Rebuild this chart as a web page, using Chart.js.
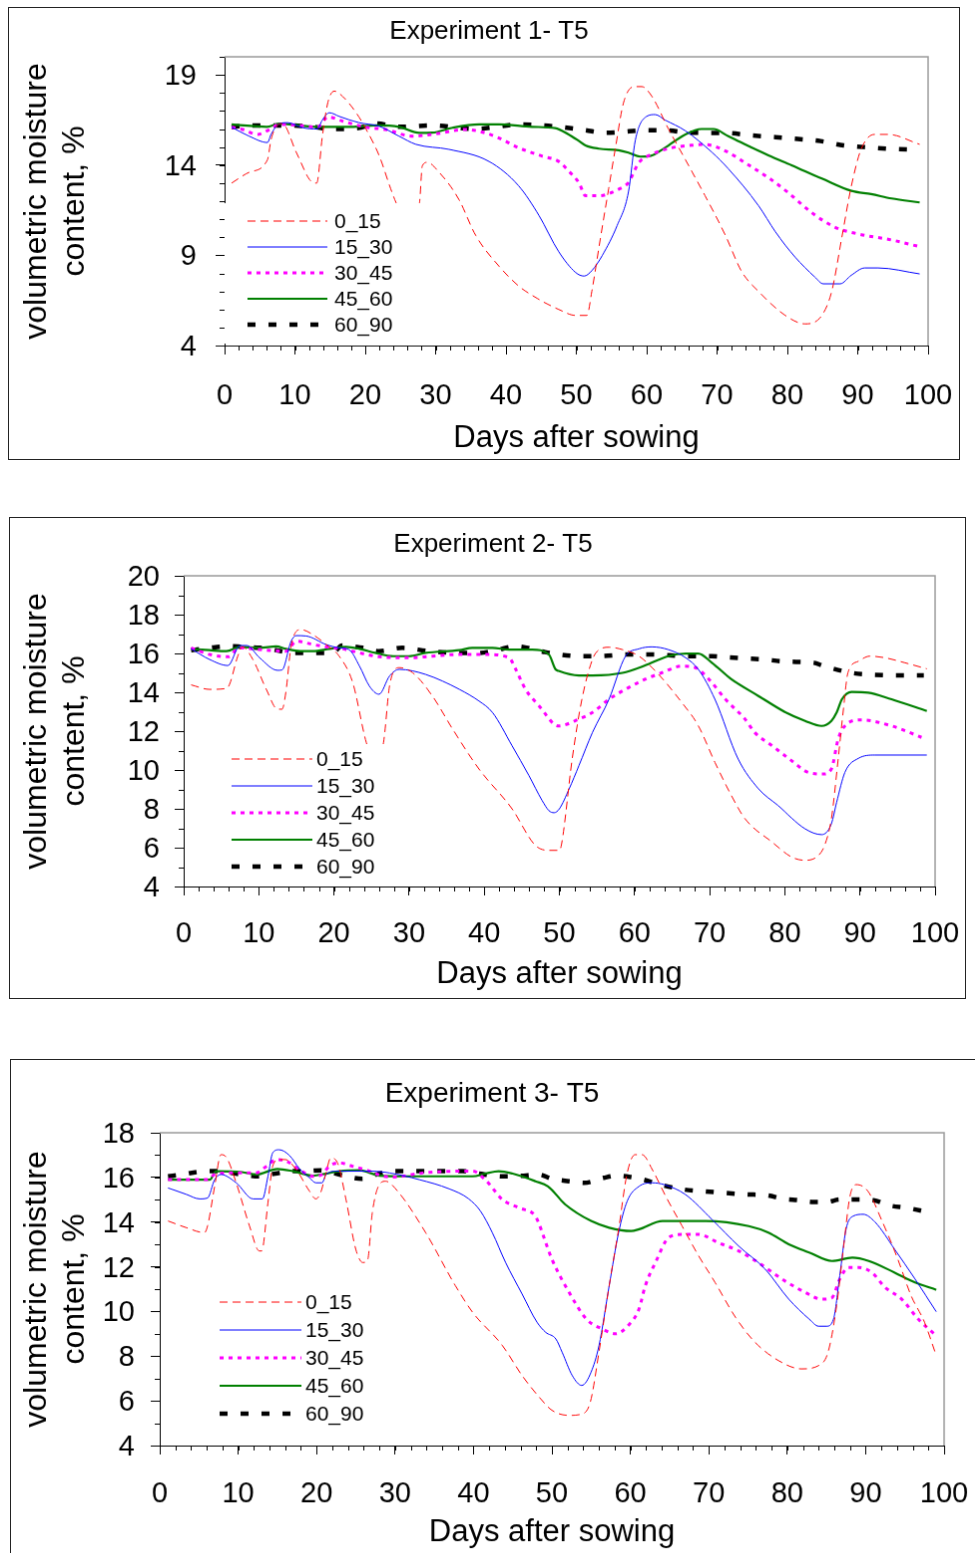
<!DOCTYPE html>
<html>
<head>
<meta charset="utf-8">
<script src="https://cdn.jsdelivr.net/npm/chart.js@4"></script>
<style>
  html, body { margin: 0; padding: 0; background: #fff; overflow: hidden; }
  canvas { position: absolute; border: 1px solid #222; }
</style>
</head>
<body>
<canvas id="c1" width="952" height="453" style="left:8px;top:7px"></canvas>
<canvas id="c2" width="957" height="482" style="left:9px;top:517px"></canvas>
<canvas id="c3" width="978" height="518" style="left:10px;top:1059px"></canvas>
<script>
// soil layers (cm)
const depths = ['0_15', '15_30', '30_45', '45_60', '60_90'];
const xTicks = [0, 10, 20, 30, 40, 50, 60, 70, 80, 90, 100];
const yTicks1 = [4, 9, 14, 19];
const yTicks2 = [4, 6, 8, 10, 12, 14, 16, 18, 20];
const yTicks3 = [4, 6, 8, 10, 12, 14, 16, 18];

// [day, moisture %]
const e1_0_15 = [[1,13.0],[3.5,13.6],[6.1,14.3],[6.6,15.4],[7.6,16.25],[8.2,16.3],[10.2,14.7],[12.3,13.1],[13.1,13.0],[13.9,15.6],[14.7,17.5],[15.6,18.1],[16.8,17.8],[18.7,16.9],[20.1,16.0],[22,14.5],[23.6,12.7],[24.4,11.9],[26,10.8],[27.7,11.9],[28.1,13.95],[28.8,14.15],[30.5,13.6],[33.3,12.1],[35.7,10.1],[39,8.4],[41.8,7.3],[44.5,6.6],[47.5,6.0],[49.9,5.67],[51.5,5.67],[52.2,7.0],[53.4,9.9],[54.6,12.7],[55.6,15.05],[56.7,17.45],[58.2,18.35],[59.3,18.35],[60.75,17.8],[63.1,16.0],[65.5,14.3],[68.3,12.3],[71.2,10.1],[73.5,8.1],[75.9,7.0],[79.7,5.67],[82.5,5.2],[84.9,5.67],[86.3,7.0],[87.7,9.9],[89.1,12.85],[90.5,14.9],[92.4,15.7],[94.3,15.7],[98.8,15.15]];
const e1_15_30 = [[1,16.1],[3.5,15.6],[6.1,15.25],[6.6,15.7],[7.8,16.3],[9,16.35],[11.1,16.07],[13.2,16.0],[13.9,16.5],[14.9,16.9],[16.3,16.7],[19.1,16.35],[22,16.15],[24.8,15.6],[27.2,15.15],[31.9,14.87],[37.6,14.2],[41.8,12.85],[44.7,11.2],[47.5,9.2],[49.9,8.05],[51.1,7.85],[52.2,8.15],[53.7,9.0],[55.8,10.65],[57.4,12.5],[58.4,15.4],[60,16.7],[61.2,16.8],[62.6,16.5],[65.5,15.9],[69.3,14.7],[71.6,13.8],[75.9,11.75],[78.3,10.3],[81.1,8.9],[83.9,7.8],[85.1,7.42],[87.5,7.42],[89.1,7.9],[91,8.3],[92.9,8.3],[98.8,7.97]];
const e1_30_45 = [[1,16.1],[2.6,15.97],[4.7,15.7],[6.4,15.97],[7.8,16.25],[10.6,16.2],[13.2,16.1],[14.7,16.67],[16.8,16.43],[20.1,16.1],[22.9,15.97],[26.7,15.6],[29.5,15.7],[34.3,15.97],[37.1,15.78],[39,15.5],[41.8,14.96],[45.1,14.5],[47.5,14.2],[48.9,13.67],[50.4,13.0],[51.3,12.3],[53.2,12.3],[56,12.66],[57.4,13.03],[58.9,14.14],[60.75,14.6],[63.6,14.96],[66.4,15.1],[68.3,15.14],[71.2,14.78],[74.5,14.0],[77.3,13.3],[80.1,12.48],[83.4,11.38],[86.8,10.55],[90.1,10.18],[94.8,9.85],[98.8,9.48]];
const e1_45_60 = [[1,16.25],[6,16.12],[7.8,16.3],[13,16.12],[18,16.12],[21.5,16.2],[24.8,16.12],[27.7,15.79],[29.5,15.8],[32.4,16.07],[36.2,16.25],[39,16.25],[43.7,16.12],[47,16.05],[48.9,15.7],[50.4,15.33],[51.3,15.09],[53.2,14.91],[56,14.82],[57.4,14.69],[59.1,14.47],[60.5,14.5],[62.6,14.96],[65.5,15.7],[67.8,16.0],[69.5,16.0],[71.6,15.6],[74,15.14],[77.3,14.54],[80.6,13.99],[84.9,13.25],[89.1,12.57],[91.9,12.39],[94.8,12.15],[98.8,11.93]];
const e1_60_90 = [[1,16.1],[3,16.2],[9,16.2],[13,16.1],[15,16.0],[19,16.05],[21.5,16.3],[25,16.12],[29.5,16.2],[35.5,16.0],[41.9,16.25],[45,16.2],[47.5,16.12],[51.3,15.93],[54.1,15.79],[56,15.82],[59.7,15.93],[63,15.92],[66.1,15.79],[71.2,15.78],[75,15.64],[78.3,15.55],[81.1,15.46],[84.7,15.33],[88,15.09],[90.8,15.0],[94.1,14.91],[98.5,14.85]];

const e2_0_15 = [[1,14.38],[3.45,14.15],[5.7,14.2],[6.1,14.4],[7.2,15.86],[7.8,16.34],[9.2,15.7],[11,14.15],[12.5,13.13],[13.1,13.13],[13.6,14.0],[14.3,16.37],[15.6,17.23],[17.2,16.97],[18.95,16.46],[20.7,15.86],[22.5,14.5],[24.3,11.42],[25.5,10.3],[26.6,11.42],[27.4,14.33],[28.7,15.27],[30.5,15.0],[33.1,13.81],[35.8,12.1],[39.3,10.05],[43.7,8.0],[46.8,6.12],[48.6,5.86],[50.0,5.86],[50.3,6.2],[51.7,10.56],[53.0,13.64],[54.4,15.69],[55.3,16.2],[56.6,16.32],[58.4,16.2],[60.6,15.86],[63.2,14.92],[66.3,13.47],[68.5,12.27],[70.7,10.39],[72.9,8.68],[74.7,7.49],[78.3,6.29],[80.9,5.52],[82.7,5.35],[84.5,5.61],[85.3,6.12],[86.2,7.49],[87.1,10.56],[87.8,13.13],[88.4,15.0],[89.8,15.6],[91.3,15.86],[93.3,15.78],[96,15.52],[98.9,15.21]];
const e2_15_30 = [[1,16.24],[3.45,15.69],[5.9,15.38],[7.5,16.41],[8.4,16.41],[10.1,15.78],[12.5,15.13],[13.1,15.15],[14.3,16.63],[15.0,16.92],[16.3,16.9],[18.95,16.46],[20.7,16.29],[22,16.2],[23.4,15.35],[24.7,14.33],[26.0,13.9],[27.4,14.84],[28.7,15.18],[32.2,14.92],[36.7,14.15],[39.3,13.55],[41.1,12.96],[43.7,11.25],[45.95,9.71],[47.7,8.43],[48.6,7.91],[49.3,7.8],[50.0,8.0],[51.3,9.03],[52.6,10.22],[54.4,11.93],[56.6,13.64],[58.8,15.86],[60.6,16.24],[62.3,16.34],[64.5,16.2],[66.8,15.78],[68.5,15.18],[70.7,13.64],[73.8,10.56],[76.5,9.03],[79.1,8.17],[82.7,6.97],[84.9,6.67],[86.2,7.23],[86.9,8.34],[88.0,9.88],[89.8,10.6],[92,10.77],[98.9,10.77]];
const e2_30_45 = [[1,16.29],[3.45,15.95],[6,15.83],[7.3,16.29],[10.1,16.2],[13.6,16.12],[15,16.63],[17.2,16.46],[19.8,16.29],[21.1,16.24],[23.4,16.03],[26,15.83],[30,15.78],[33.1,15.86],[36.7,15.95],[40.2,15.95],[43.3,15.78],[44.2,15.18],[45.5,14.15],[47.3,13.3],[49.9,12.27],[52.6,12.62],[54.4,12.96],[56.6,13.64],[59.2,14.24],[61.4,14.67],[63.6,15.0],[66.3,15.35],[68.1,15.27],[69.9,14.67],[72.1,13.64],[74.7,12.62],[76.0,11.93],[78.3,11.25],[80.9,10.48],[83.1,9.88],[85.1,9.79],[86.2,10.05],[87.1,11.59],[88.0,12.27],[90.2,12.58],[94.2,12.27],[98.2,11.68]];
const e2_45_60 = [[1,16.24],[3.45,16.17],[5.7,16.12],[7.5,16.34],[10.1,16.29],[12.3,16.37],[13.6,16.24],[15.5,16.12],[17.2,16.12],[19.4,16.24],[21.6,16.34],[23.4,16.24],[25.5,16.03],[27.9,15.86],[30,15.86],[32.2,16.03],[36.7,16.17],[38.4,16.29],[41.1,16.29],[43.3,16.2],[46.4,16.2],[48.6,15.95],[49.5,15.18],[49.9,15.1],[52.6,14.87],[54.4,14.87],[58.4,15.0],[61.4,15.38],[64.5,15.86],[66.8,15.99],[68.5,15.99],[70.3,15.52],[72.9,14.67],[76.5,13.81],[80.0,12.99],[82.7,12.53],[84.9,12.27],[86.2,12.53],[86.9,12.96],[87.6,13.64],[88.9,14.02],[91.1,13.98],[94.2,13.64],[98.9,13.04]];
const e2_60_90 = [[1,16.17],[3.45,16.29],[6,16.37],[7.5,16.35],[10.1,16.29],[11.9,16.2],[14.4,16.03],[17,16.03],[19.8,16.03],[21.1,16.41],[23.8,16.29],[26,16.12],[29.1,16.29],[32.6,16.12],[36.7,16.03],[39.3,16.03],[41.6,16.17],[44.2,16.37],[48.1,16.07],[49.9,15.95],[52.6,15.86],[55,15.86],[59.3,15.95],[62.3,15.95],[66.8,15.86],[70.3,15.86],[72.5,15.8],[74.7,15.75],[77.3,15.69],[79.5,15.6],[81.5,15.57],[83.9,15.52],[85,15.38],[86.5,15.21],[88.9,15.0],[91.1,14.92],[96.1,14.87],[98.5,14.87]];

const e3_0_15 = [[1.06,14.05],[3.4,13.75],[5.7,13.53],[6.1,13.83],[7.0,15.6],[7.8,17.02],[8.5,16.9],[9.75,15.76],[11.45,13.82],[12.7,12.71],[13.0,12.71],[13.8,14.87],[14.4,16.5],[15.2,16.8],[16.0,16.8],[17.4,16.35],[19.1,15.38],[19.9,15.04],[20.5,15.3],[21.2,16.2],[21.8,16.87],[22.6,16.7],[23.75,15.01],[25.0,12.78],[25.9,12.19],[26.5,12.3],[27.1,14.42],[28.0,15.68],[28.8,15.83],[30.5,15.31],[33.9,13.53],[37.7,11.15],[39.9,9.96],[43.7,8.47],[46.2,7.13],[48.3,6.2],[50.0,5.58],[52.2,5.35],[53.7,5.4],[54.9,5.95],[56.0,8.18],[57.3,11.15],[58.5,13.68],[59.6,16.2],[60.6,17.02],[61.5,17.02],[62.8,16.35],[64.5,15.16],[66.6,13.82],[68.7,12.49],[70.8,11.3],[73.4,9.74],[75.9,8.62],[78.9,7.8],[81.8,7.43],[84.0,7.58],[85.2,8.18],[86.3,10.26],[87.2,12.93],[88.0,15.16],[88.8,15.68],[90.3,15.38],[92.0,14.12],[94.1,12.34],[95.8,10.7],[97.5,9.52],[99.0,8.03]];
const e3_15_30 = [[1.06,15.53],[3.4,15.24],[5.1,15.04],[6.1,15.08],[7.0,15.9],[7.8,16.13],[9.75,15.76],[11.9,15.04],[13.1,15.04],[13.8,16.05],[14.4,17.1],[15.2,17.24],[16.5,17.0],[17.8,16.4],[19.1,15.98],[19.9,15.76],[20.7,15.76],[21.2,16.13],[22.5,16.28],[27.1,16.28],[29.3,16.2],[33.1,15.9],[36.9,15.49],[39.4,15.04],[40.9,14.49],[42.4,13.53],[44.1,12.19],[46.2,10.78],[48.1,9.52],[49.2,9.07],[50.5,8.77],[51.3,8.18],[52.6,7.13],[53.8,6.69],[55.0,7.29],[56.0,8.47],[57.3,11.15],[58.5,13.53],[59.6,14.94],[61.1,15.6],[62.8,15.76],[64.3,15.68],[67.0,15.24],[70.4,14.12],[73.8,12.93],[77.2,11.89],[80.2,10.55],[82.8,9.66],[84.0,9.34],[85.0,9.34],[85.9,9.66],[86.7,11.6],[87.5,13.68],[88.4,14.27],[89.7,14.35],[91.2,14.0],[93.7,12.78],[96.3,11.45],[99.0,9.99]];
const e3_30_45 = [[1.06,15.9],[6.1,15.9],[7.0,16.13],[8.5,16.2],[12.3,16.2],[13.6,16.5],[14.9,16.8],[16.2,16.72],[17.8,16.35],[19.5,16.05],[20.7,16.13],[21.6,16.5],[22.9,16.65],[24.6,16.5],[26.8,16.28],[28.5,16.05],[29.8,16.02],[33.5,16.2],[37.7,16.28],[39.9,16.28],[41.5,15.9],[43.7,15.01],[45.8,14.64],[47.9,14.27],[48.3,13.97],[50.0,12.34],[52.2,10.85],[54.4,9.66],[56.4,9.22],[58.1,9.0],[59.8,9.4],[61.1,10.11],[61.9,11.15],[63.2,12.19],[64.9,13.31],[66.6,13.45],[68.7,13.45],[71.2,13.08],[73.8,12.71],[76.3,12.19],[79.7,11.37],[82.3,10.85],[84.4,10.55],[85.7,10.62],[86.7,11.45],[87.8,11.97],[89.1,11.97],[90.8,11.74],[92.5,11.07],[94.6,10.55],[96.7,9.66],[99.0,8.92]];
const e3_45_60 = [[1.06,15.9],[6.4,15.9],[7.2,16.28],[10.5,16.24],[12.3,16.13],[15.0,16.38],[17.0,16.28],[19.5,16.08],[21.2,16.17],[22.9,16.28],[25.5,16.32],[28.0,16.08],[31.4,16.05],[39.9,16.05],[41.5,16.17],[43.2,16.28],[45.0,16.17],[47.9,15.83],[49.5,15.6],[51.7,14.79],[55.0,14.05],[57.3,13.75],[60.1,13.6],[61.1,13.68],[64.1,14.05],[69.6,14.05],[75.1,13.82],[77.6,13.53],[80.2,13.01],[82.8,12.64],[85.7,12.26],[88.3,12.41],[90.4,12.26],[93.7,11.74],[96.3,11.3],[99.0,10.97]];
const e3_60_90 = [[1.06,16.05],[2.9,16.13],[4.7,16.24],[6.0,16.28],[7.3,16.28],[10.5,16.13],[12.6,16.05],[14.7,16.17],[16.9,16.28],[18.6,16.28],[20.5,16.32],[22.1,16.2],[23.8,16.05],[25.8,15.94],[28.0,16.17],[29.3,16.28],[38.6,16.28],[40.7,16.17],[43.8,16.05],[46,16.07],[48.3,16.13],[50,15.94],[52.2,15.83],[54.1,15.76],[56.6,15.98],[58.3,16.08],[60.0,16.02],[61.7,15.9],[63.8,15.68],[66.8,15.46],[69.3,15.38],[71.9,15.31],[74.8,15.24],[77.4,15.2],[79.5,15.04],[81.6,14.98],[83.3,14.9],[85,14.9],[86.7,15.01],[88.8,15.01],[91,14.98],[93.1,14.74],[95.2,14.64],[97.4,14.49],[98.5,14.42]];

const lineStyles = [
  { color: '#ff0000', width: 1, dash: [8, 5] },
  { color: '#0000ff', width: 1, dash: [] },
  { color: '#ff00ff', width: 3, dash: [4, 5] },
  { color: '#008000', width: 2.2, dash: [] },
  { color: '#000000', width: 4.5, dash: [8, 13] },
];

Chart.defaults.font.family = '"Liberation Sans", Arial, sans-serif';
Chart.defaults.color = '#000';

// grey top/right edge of the plot area
const frame = {
  id: 'frame',
  beforeDatasetsDraw(chart) {
    const { ctx, chartArea: a } = chart;
    ctx.save();
    ctx.strokeStyle = '#9a9a9a';
    ctx.lineWidth = 1.5;
    ctx.beginPath();
    ctx.moveTo(a.left, a.top);
    ctx.lineTo(a.right, a.top);
    ctx.lineTo(a.right, a.bottom);
    ctx.stroke();
    ctx.restore();
  }
};

// legend box sitting inside the plot, drawn over the curves
const boxLegend = {
  id: 'boxLegend',
  afterDatasetsDraw(chart, args, o) {
    const { ctx, chartArea: a } = chart;
    ctx.save();
    ctx.fillStyle = '#fff';
    ctx.fillRect(a.left + o.box[0], a.top + o.box[1], o.box[2], o.box[3]);
    ctx.font = '21px "Liberation Sans", Arial, sans-serif';
    ctx.textBaseline = 'middle';
    chart.data.datasets.forEach((ds, i) => {
      const yy = a.top + o.rowTop + i * o.rowStep;
      ctx.strokeStyle = ds.borderColor;
      ctx.lineWidth = ds.borderWidth;
      ctx.setLineDash(ds.borderDash);
      ctx.beginPath();
      ctx.moveTo(a.left + o.sample[0], yy);
      ctx.lineTo(a.left + o.sample[1], yy);
      ctx.stroke();
      ctx.setLineDash([]);
      ctx.fillStyle = '#000';
      ctx.fillText(ds.label, a.left + o.textX, yy + 1);
    });
    ctx.restore();
  }
};

// small tick marks between the labelled ones
const minorTicks = {
  id: 'minorTicks',
  afterDraw(chart, args, o) {
    const { ctx, chartArea: a, scales: { x, y } } = chart;
    ctx.save();
    ctx.strokeStyle = '#000';
    ctx.lineWidth = 1;
    ctx.beginPath();
    for (let v = x.min; v <= x.max; v += o.xStep) {
      const p = Math.round(x.getPixelForValue(v)) + 0.5;
      ctx.moveTo(p, a.bottom);
      ctx.lineTo(p, a.bottom + o.len);
    }
    for (let v = y.min; v <= y.max; v += o.yStep) {
      const p = Math.round(y.getPixelForValue(v)) + 0.5;
      ctx.moveTo(a.left - o.len, p);
      ctx.lineTo(a.left, p);
    }
    ctx.stroke();
    ctx.restore();
  }
};

function drawChart(id, title, series, yMin, yMax, yTicks, g) {
  return new Chart(document.getElementById(id), {
    type: 'line',
    data: {
      datasets: series.map((pts, i) => ({
        label: depths[i],
        data: pts.map(([x, y]) => ({ x, y })),
        borderColor: lineStyles[i].color,
        borderWidth: lineStyles[i].width,
        borderDash: lineStyles[i].dash,
        pointRadius: 0,
        fill: false,
        cubicInterpolationMode: 'monotone',
      })),
    },
    options: {
      responsive: false,
      animation: false,
      events: [],
      layout: { padding: { left: g.padL, right: g.padR, top: 0, bottom: g.padB } },
      plugins: {
        legend: { display: false },
        tooltip: { enabled: false },
        title: {
          display: true, text: title, color: '#000',
          font: { size: g.titleSize, weight: 'normal' },
          padding: { top: g.titleTop + 2, bottom: g.titleBottom - 2 },
        },
        boxLegend: g.legend,
        minorTicks: { xStep: 2, yStep: 1, len: 5 },
      },
      scales: {
        x: {
          type: 'linear', min: 0, max: 100,
          afterBuildTicks: s => { s.ticks = xTicks.map(v => ({ value: v })); },
          afterFit: s => { s.height = g.xH; s.paddingLeft = 0; s.paddingRight = 0; },
          ticks: { font: { size: 29 }, padding: g.xLabPad + 3, maxRotation: 0, autoSkip: false },
          grid: { drawOnChartArea: false, tickLength: 9, color: '#000' },
          border: { color: '#000', width: 1 },
          title: { display: true, text: 'Days after sowing', font: { size: 31 }, padding: { top: 0, bottom: -3 } },
        },
        y: {
          min: yMin, max: yMax,
          afterBuildTicks: s => { s.ticks = yTicks.map(v => ({ value: v })); },
          afterFit: s => { s.width = g.yW; s.paddingTop = 0; s.paddingBottom = 0; },
          ticks: { font: { size: 29 }, padding: g.yLabPad, labelOffset: 2, autoSkip: false },
          grid: { drawOnChartArea: false, tickLength: 9, color: '#000' },
          border: { color: '#000', width: 1 },
          title: {
            display: true, text: ['volumetric moisture', 'content, %'],
            font: { size: 32, lineHeight: 1.19 }, padding: { top: g.yTitlePad, bottom: 0 },
          },
        },
      },
    },
    plugins: [frame, boxLegend, minorTicks],
  });
}

drawChart('c1', 'Experiment 1- T5', [e1_0_15, e1_15_30, e1_30_45, e1_45_60, e1_60_90], 4, 20, yTicks1, {
  padL: 41, padR: 31, padB: 5, xH: 109, yW: 175,
  titleSize: 26, titleTop: 6.4, titleBottom: 11.4, yTitlePad: -32, xLabPad: 21.6, yLabPad: 19,
  legend: { box: [-4, 147, 209, 141], rowTop: 165, rowStep: 26, sample: [23, 103], textX: 110 },
});
drawChart('c2', 'Experiment 2- T5', [e2_0_15, e2_15_30, e2_30_45, e2_45_60, e2_60_90], 4, 20, yTicks2, {
  padL: 41, padR: 30, padB: 8, xH: 104, yW: 133,
  titleSize: 26, titleTop: 9.4, titleBottom: 17.4, yTitlePad: -33, xLabPad: 18.6, yLabPad: 15,
  legend: { box: [2, 169, 208, 141], rowTop: 184, rowStep: 27, sample: [48, 129], textX: 133 },
});
drawChart('c3', 'Experiment 3- T5', [e3_0_15, e3_15_30, e3_30_45, e3_45_60, e3_60_90], 4, 18, yTicks3, {
  padL: 29, padR: 43, padB: 28, xH: 103, yW: 120,
  titleSize: 28, titleTop: 15.2, titleBottom: 24.2, yTitlePad: -22, xLabPad: 19.6, yLabPad: 16,
  legend: { box: [2, 155, 210, 155], rowTop: 170, rowStep: 28, sample: [60, 142], textX: 146 },
});
</script>
</body>
</html>
